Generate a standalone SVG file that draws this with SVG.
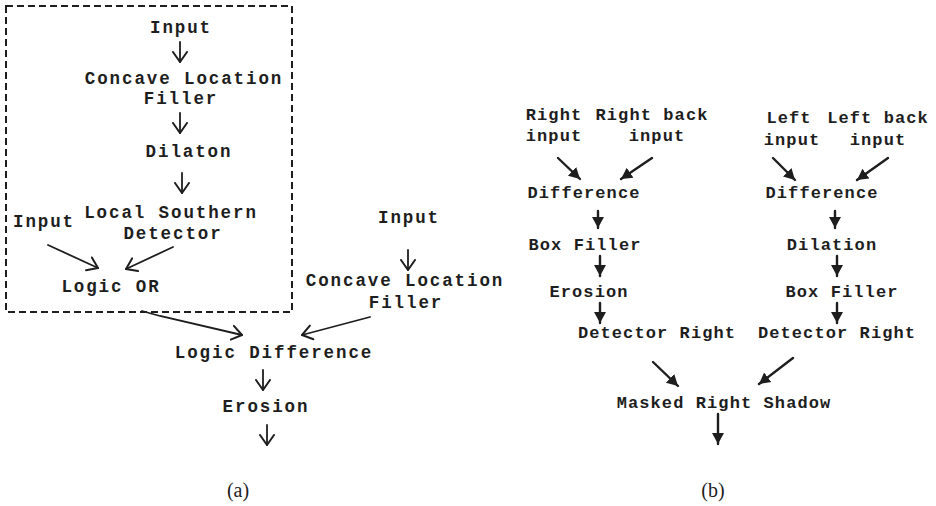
<svg xmlns="http://www.w3.org/2000/svg" width="936" height="506" viewBox="0 0 936 506">
<style>
.a{font-family:"Liberation Mono","DejaVu Sans Mono",monospace;font-weight:bold;font-size:17.5px;letter-spacing:1.9px;fill:#1e1e1e;text-anchor:middle}
.b{font-family:"Liberation Mono","DejaVu Sans Mono",monospace;font-weight:bold;font-size:17px;letter-spacing:1.1px;fill:#1e1e1e;text-anchor:middle}
.cap{font-family:"Liberation Serif","Times New Roman",serif;font-size:20px;fill:#1e1e1e;text-anchor:middle}
.la{stroke:#1e1e1e;stroke-width:1.8;fill:none;stroke-linecap:round}
.lb{stroke:#1e1e1e;stroke-width:2.4;fill:none;stroke-linecap:round}
.box{stroke:#1e1e1e;stroke-width:2;fill:none;stroke-dasharray:7 4}
</style>
<defs>
<marker id="v" markerUnits="userSpaceOnUse" markerWidth="14" markerHeight="18" viewBox="0 0 14 18" refX="11" refY="9" orient="auto">
<path d="M1,2 L11,9 L1,16" fill="none" stroke="#1e1e1e" stroke-width="2" stroke-linecap="round" stroke-linejoin="round"/>
</marker>
<marker id="t" markerUnits="userSpaceOnUse" markerWidth="14" markerHeight="14" viewBox="0 0 14 14" refX="11" refY="7" orient="auto">
<path d="M0,1 L11,7 L0,13 Z" fill="#1e1e1e"/>
</marker>
</defs>

<rect class="box" x="6" y="6" width="286" height="306"/>

<g id="a-input1"><text class="a" x="181" y="33">Input</text></g>
<g id="a-clf1"><text class="a" x="184" y="84">Concave Location</text><text class="a" x="181" y="104">Filler</text></g>
<g id="a-dilaton"><text class="a" x="189" y="157">Dilaton</text></g>
<g id="a-lsd"><text class="a" x="171" y="218">Local Southern</text><text class="a" x="173" y="239">Detector</text></g>
<g id="a-input2"><text class="a" x="44" y="227">Input</text></g>
<g id="a-or"><text class="a" x="111" y="292">Logic OR</text></g>
<g id="a-input3"><text class="a" x="409" y="223">Input</text></g>
<g id="a-clf2"><text class="a" x="405" y="286">Concave Location</text><text class="a" x="406" y="308">Filler</text></g>
<g id="a-diff"><text class="a" x="274" y="358">Logic Difference</text></g>
<g id="a-erosion"><text class="a" x="266" y="412">Erosion</text></g>
<g id="cap-a"><text class="cap" x="238" y="497">(a)</text></g>

<g id="b-rin"><text class="b" x="554" y="120">Right</text><text class="b" x="554" y="141">input</text></g>
<g id="b-rbin"><text class="b" x="652" y="120">Right back</text><text class="b" x="657" y="141">input</text></g>
<g id="b-diff1"><text class="b" x="584" y="198">Difference</text></g>
<g id="b-box1"><text class="b" x="585" y="250">Box Filler</text></g>
<g id="b-ero"><text class="b" x="589" y="297">Erosion</text></g>
<g id="b-det1"><text class="b" x="657" y="338">Detector Right</text></g>
<g id="b-lin"><text class="b" x="789" y="123">Left</text><text class="b" x="792" y="145">input</text></g>
<g id="b-lbin"><text class="b" x="878" y="123">Left back</text><text class="b" x="878" y="145">input</text></g>
<g id="b-diff2"><text class="b" x="822" y="198">Difference</text></g>
<g id="b-dil"><text class="b" x="832" y="250">Dilation</text></g>
<g id="b-box2"><text class="b" x="842" y="297">Box Filler</text></g>
<g id="b-det2"><text class="b" x="837" y="338">Detector Right</text></g>
<g id="b-mask"><text class="b" x="724" y="408">Masked Right Shadow</text></g>
<g id="cap-b"><text class="cap" x="713" y="497">(b)</text></g>

<g id="connectors">
<line class="la" x1="180" y1="42" x2="180" y2="62" marker-end="url(#v)"/>
<line class="la" x1="180" y1="113" x2="180" y2="133" marker-end="url(#v)"/>
<line class="la" x1="182" y1="173" x2="182" y2="193" marker-end="url(#v)"/>
<line class="la" x1="48" y1="245" x2="98" y2="268" marker-end="url(#v)"/>
<line class="la" x1="173" y1="247" x2="126" y2="269" marker-end="url(#v)"/>
<line class="la" x1="408" y1="250" x2="408" y2="270" marker-end="url(#v)"/>
<path class="la" d="M142,311 L160,316 L242,335" marker-end="url(#v)"/>
<line class="la" x1="370" y1="317" x2="302" y2="335" marker-end="url(#v)"/>
<line class="la" x1="263" y1="370" x2="263" y2="390" marker-end="url(#v)"/>
<line class="la" x1="267" y1="425" x2="267" y2="445" marker-end="url(#v)"/>

<line class="lb" x1="558" y1="158" x2="580" y2="179" marker-end="url(#t)"/>
<line class="lb" x1="652" y1="158" x2="621" y2="179" marker-end="url(#t)"/>
<line class="lb" x1="598" y1="211" x2="598" y2="228" marker-end="url(#t)"/>
<line class="lb" x1="600" y1="256" x2="600" y2="276" marker-end="url(#t)"/>
<line class="lb" x1="600" y1="303" x2="600" y2="323" marker-end="url(#t)"/>
<line class="lb" x1="773" y1="158" x2="795" y2="180" marker-end="url(#t)"/>
<line class="lb" x1="888" y1="158" x2="857" y2="180" marker-end="url(#t)"/>
<line class="lb" x1="835" y1="211" x2="835" y2="228" marker-end="url(#t)"/>
<line class="lb" x1="837" y1="256" x2="837" y2="276" marker-end="url(#t)"/>
<line class="lb" x1="837" y1="303" x2="837" y2="323" marker-end="url(#t)"/>
<line class="lb" x1="653" y1="362" x2="678" y2="386" marker-end="url(#t)"/>
<line class="lb" x1="793" y1="358" x2="759" y2="384" marker-end="url(#t)"/>
<line class="lb" x1="718" y1="414" x2="718" y2="444" marker-end="url(#t)"/>
</g>
</svg>
